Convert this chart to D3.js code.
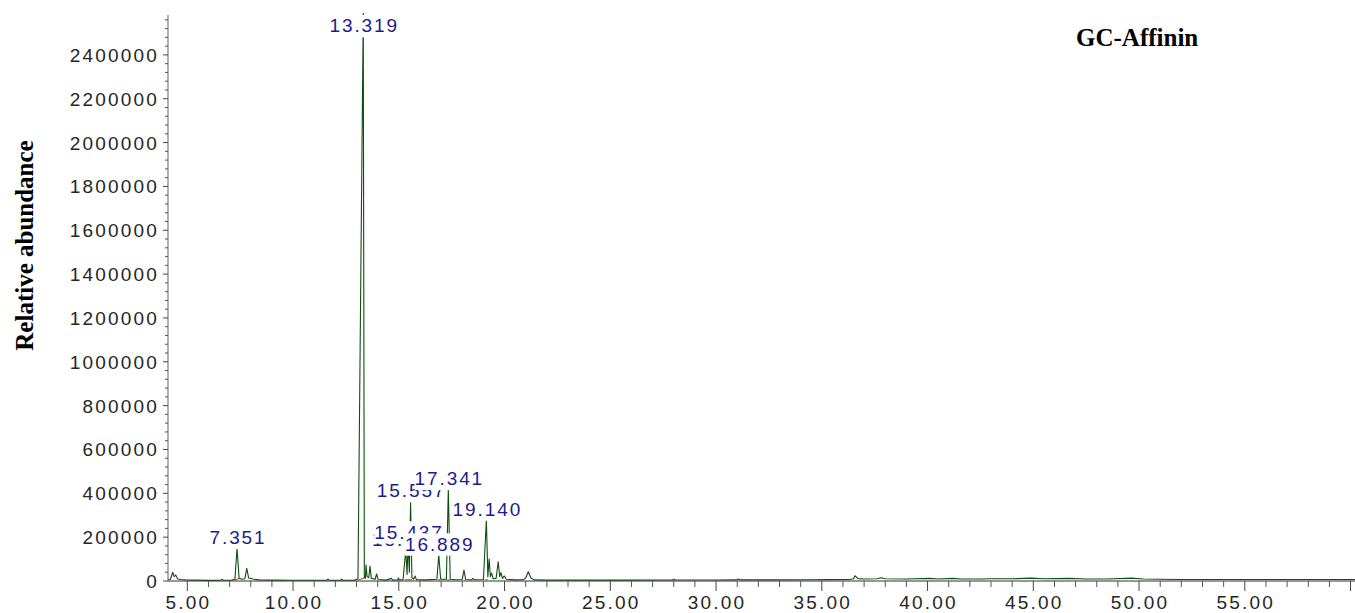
<!DOCTYPE html>
<html>
<head>
<meta charset="utf-8">
<script src="https://cdn.jsdelivr.net/npm/d3@7/dist/d3.min.js"></script>
<style>
  html, body { margin: 0; padding: 0; background: #fff; }
  svg { display: block; }
  .tick-label { font-family: "Liberation Sans", Arial, sans-serif; font-size: 19px; letter-spacing: 2.2px; fill: #262626; }
  .peak-label { font-family: "Liberation Sans", Arial, sans-serif; font-size: 19px; letter-spacing: 1.9px; fill: #1b1b8f; }
</style>
</head>
<body>
<svg id="chart" width="1355" height="613"></svg>
<script>
// Total ion chromatogram: retention time (min) vs abundance
const traceTime = [
  4.09, 4.2, 4.31, 4.38, 4.45, 4.55, 4.7, 4.9, 5.3, 6.0, 6.6, 6.64, 6.7, 7.1, 7.25,
  7.351, 7.45, 7.6, 7.72, 7.81, 7.9, 8.1, 8.4, 9.0, 10.0, 11.0, 11.6, 11.65, 11.7,
  12.25, 12.3, 12.35, 12.9, 13.07, 13.319, 13.37, 13.42, 13.45, 13.5, 13.58, 13.64,
  13.7, 13.88, 13.95, 14.02, 14.4, 14.66, 14.7, 14.95, 14.98, 15.02, 15.2, 15.329,
  15.39, 15.437, 15.5, 15.557, 15.62, 15.7, 15.77, 15.83, 16.3, 16.8, 16.889, 16.98,
  17.25, 17.341, 17.43, 17.7, 18.0, 18.08, 18.16, 18.45, 18.5, 18.56, 19.0, 19.14,
  19.21, 19.27, 19.33, 19.39, 19.46, 19.6, 19.7, 19.77, 19.83, 19.9, 19.99, 20.08,
  20.5, 20.9, 21.0, 21.12, 21.25, 21.4, 22.0, 24.0, 26.0, 27.95, 28.0, 28.05, 30.0,
  30.95, 31.05, 31.15, 33.0, 34.5, 35.3, 36.3, 36.5, 36.57, 36.7, 37.0, 37.6, 37.8,
  38.0, 39.0, 40.1, 40.5, 41.2, 41.6, 42.5, 43.0, 44.0, 44.9, 45.5, 46.7, 47.5, 48.5,
  49.65, 50.2, 51.0, 52.0, 55.0, 58.0, 60.21
];
const traceAbundance = [
  6000, 8000, 40000, 20000, 27000, 9000, 7000, 5000, 4000, 3000, 3500, 8000, 3500, 4000, 8000,
  149000, 12000, 8000, 10000, 58000, 14000, 9000, 5000, 4000, 3500, 3500, 3500, 9000, 3500,
  3500, 8000, 3500, 4000, 9000, 2590000, 15000, 12000, 73000, 20000, 15000, 68000,
  12000, 8000, 32000, 7000, 4000, 12000, 4000, 5000, 14000, 5000, 6000, 141000,
  30000, 174000, 40000, 362000, 15000, 8000, 23000, 6000, 5000, 8000, 118600, 8000,
  8000, 418000, 8000, 6000, 7000, 50000, 7000, 6000, 12000, 6000, 7000, 278000,
  20000, 100000, 20000, 36000, 10000, 12000, 88000, 20000, 38000, 12000, 23000, 8000,
  5000, 6000, 14000, 42000, 14000, 5000, 4000, 4000, 4000, 4500, 8000, 4500, 4500,
  5000, 9000, 5000, 5000, 6000, 6500, 7000, 10000, 24000, 11000, 9000, 10000, 15000,
  10000, 9000, 12000, 9000, 12000, 9000, 9000, 10000, 10000, 13000, 10000, 12000, 9000, 9000,
  13000, 9000, 8000, 7000, 7000, 7000, 7000
];

// Integration baselines under the integrated peaks: [start, end] in minutes
const integStart = [7.25, 13.07, 15.28, 16.84, 17.29, 19.09];
const integEnd   = [7.45, 13.37, 15.62, 16.95, 17.40, 19.20];
const integStartAbund = [4000, 3000, 5000, 5000, 5000, 5000];
const integEndAbund   = [12000, 15000, 6000, 5000, 5000, 6000];

// Peak annotations, in drawing order (later boxes sit on top of earlier ones)
const peakLabelTimes = [7.351, 13.319, 15.329, 15.437, 16.889, 15.557, 17.341, 19.140];

// Axis ticks
const xMajorTicks = [5, 10, 15, 20, 25, 30, 35, 40, 45, 50, 55, 60];
const xTickLabels = ["5.00", "10.00", "15.00", "20.00", "25.00", "30.00", "35.00", "40.00", "45.00", "50.00", "55.00", ""];
const yMajorTicks = [0, 200000, 400000, 600000, 800000, 1000000, 1200000, 1400000, 1600000, 1800000, 2000000, 2200000, 2400000];

const svg = d3.select("#chart");
const x = d3.scaleLinear().domain([4.087, 60.21]).range([168, 1355]);
const y = d3.scaleLinear().domain([0, 2582000]).range([581, 15]);

const trace = traceTime.map((t, i) => [t, traceAbundance[i]]);

// trace
svg.append("path")
  .datum(trace)
  .attr("fill", "none")
  .attr("stroke", "#0f4f0f")
  .attr("stroke-width", 1.1)
  .attr("stroke-linejoin", "round")
  .attr("d", d3.line().x(d => x(d[0])).y(d => y(d[1])));

// integration baselines
svg.append("g").selectAll("line")
  .data(integStart.map((s, i) => ({s, e: integEnd[i], vs: integStartAbund[i], ve: integEndAbund[i]})))
  .join("line")
  .attr("x1", d => x(d.s)).attr("x2", d => x(d.e))
  .attr("y1", d => y(d.vs)).attr("y2", d => y(d.ve))
  .attr("stroke", "#d22a2a").attr("stroke-width", 1);

// axes
const xMinor = d3.range(4, 61, 1).filter(v => v % 5 !== 0);
const gx = svg.append("g").attr("transform", "translate(0,581)");
gx.append("line").attr("x1", 168).attr("x2", 1355).attr("y1", 0).attr("y2", 0)
  .attr("stroke", "#303030").attr("stroke-width", 1);
gx.selectAll(".mn").data(xMinor.filter(v => x(v) >= 168)).join("line")
  .attr("x1", d => x(d)).attr("x2", d => x(d)).attr("y1", 0).attr("y2", 6)
  .attr("stroke", "#555").attr("stroke-width", 1);
gx.selectAll(".mj").data(xMajorTicks).join("line")
  .attr("x1", d => x(d)).attr("x2", d => x(d)).attr("y1", 0).attr("y2", 10)
  .attr("stroke", "#444").attr("stroke-width", 1);
gx.selectAll("text").data(xMajorTicks).join("text")
  .attr("class", "tick-label")
  .attr("x", d => x(d) + 1).attr("y", 28)
  .attr("text-anchor", "middle")
  .text((d, i) => xTickLabels[i]);

const yMinor = d3.range(0, 2580001, 40000).filter(v => v % 200000 !== 0);
const gy = svg.append("g").attr("transform", "translate(168,0)");
gy.append("line").attr("x1", 0).attr("x2", 0).attr("y1", 15).attr("y2", 581)
  .attr("stroke", "#7a7a7a").attr("stroke-width", 1.2);
gy.selectAll(".mn").data(yMinor).join("line")
  .attr("x1", -3).attr("x2", 0).attr("y1", d => y(d)).attr("y2", d => y(d))
  .attr("stroke", "#555").attr("stroke-width", 1);
gy.selectAll(".mj").data(yMajorTicks).join("line")
  .attr("x1", -5).attr("x2", 0).attr("y1", d => y(d)).attr("y2", d => y(d))
  .attr("stroke", "#444").attr("stroke-width", 1);
gy.selectAll("text").data(yMajorTicks).join("text")
  .attr("class", "tick-label")
  .attr("x", -9).attr("y", d => y(d) + 7)
  .attr("text-anchor", "end")
  .text(d => d3.format("d")(d));

// peak annotations with white backing boxes
function apexAt(t) {
  let best = 0;
  traceTime.forEach((tt, i) => { if (Math.abs(tt - t) < Math.abs(traceTime[best] - t)) best = i; });
  return traceAbundance[best];
}
const gl = svg.append("g");
peakLabelTimes.forEach(t => {
  const base = Math.max(y(apexAt(t)) - 4.3, 32.3);
  const g = gl.append("g");
  const rect = g.append("rect").attr("fill", "#fff");
  const txt = g.append("text").attr("class", "peak-label")
    .attr("x", x(t) + 1).attr("y", base).attr("text-anchor", "middle")
    .text(t.toFixed(3));
  const bb = txt.node().getBBox();
  rect.attr("x", bb.x).attr("y", base - 17.3).attr("width", bb.width - 1).attr("height", 22.3);
});

// title and axis title
svg.append("text")
  .attr("x", 1076).attr("y", 46)
  .attr("font-family", "'Liberation Serif', 'Times New Roman', serif")
  .attr("font-weight", "bold").attr("font-size", 25).attr("fill", "#000")
  .text("GC-Affinin");

svg.append("text")
  .attr("transform", "translate(33,245.5) rotate(-90)")
  .attr("text-anchor", "middle")
  .attr("font-family", "'Liberation Serif', 'Times New Roman', serif")
  .attr("font-weight", "bold").attr("font-size", 25).attr("fill", "#000")
  .text("Relative abundance");
</script>
</body>
</html>
